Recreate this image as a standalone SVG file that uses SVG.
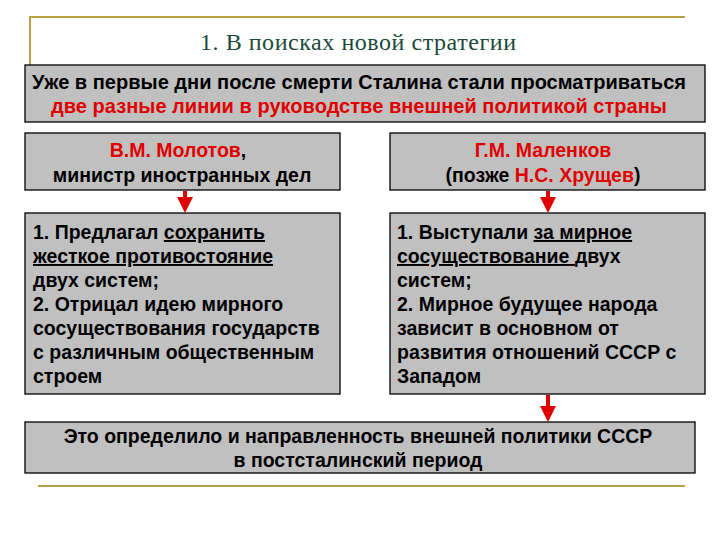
<svg xmlns="http://www.w3.org/2000/svg" width="720" height="540" viewBox="0 0 720 540" xml:space="preserve">
<style>
.b{fill:#c0c0c0;stroke:#000;stroke-width:1.3}
.t{font-family:"Liberation Sans",Arial,sans-serif;font-weight:bold;font-size:19.5px;fill:#000}
.r{fill:#e00000}
.g{stroke:#b8a040;stroke-width:2;fill:none}
</style>
<defs><marker id="ah" markerWidth="4" markerHeight="4" refX="2" refY="2" orient="auto" markerUnits="strokeWidth"><path d="M0,0L4,2L0,4z" fill="#e00000"/></marker></defs>
<rect width="720" height="540" fill="#fff"/>
<path class="g" d="M30,90V17H685"/>
<path class="g" d="M38,486H685"/>
<text x="358" y="50" text-anchor="middle" font-family="Liberation Serif,serif" font-size="24" fill="#1a4a3a" textLength="316">1. В поисках новой стратегии</text>
<g id="intro"><rect class="b" x="25" y="65" width="680" height="57"/>
<text class="t" x="359" y="89" text-anchor="middle" textLength="654" lengthAdjust="spacingAndGlyphs">Уже в первые дни после смерти Сталина стали просматриваться</text>
<text class="t r" x="359" y="113" text-anchor="middle" textLength="616" lengthAdjust="spacingAndGlyphs">две разные линии в руководстве внешней политикой страны</text></g>
<g id="molotov"><rect class="b" x="25" y="133" width="315" height="57"/>
<text class="t" x="178" y="157" text-anchor="middle"><tspan class="r">В.М. Молотов</tspan>,</text>
<text class="t" x="182" y="182" text-anchor="middle">министр иностранных дел</text></g>
<g id="malenkov"><rect class="b" x="390" y="133" width="315" height="57"/>
<text class="t r" x="543" y="157" text-anchor="middle">Г.М. Маленков</text>
<text class="t" x="543" y="182" text-anchor="middle">(позже <tspan class="r">Н.С. Хрущев</tspan>)</text></g>
<g id="left"><rect class="b" x="25" y="213" width="315" height="181"/>
<text class="t" x="33" y="239">1.  Предлагал <tspan text-decoration="underline">сохранить</tspan></text>
<text class="t" x="33" y="263" text-decoration="underline">жесткое противостояние</text>
<text class="t" x="33" y="287">двух систем;</text>
<text class="t" x="33" y="311">2. Отрицал идею мирного</text>
<text class="t" x="33" y="335">сосуществования государств</text>
<text class="t" x="33" y="359">с различным общественным</text>
<text class="t" x="33" y="383">строем</text></g>
<g id="right"><rect class="b" x="390" y="213" width="315" height="181"/>
<text class="t" x="397" y="239">1.  Выступали <tspan text-decoration="underline">за мирное</tspan></text>
<text class="t" x="397" y="263"><tspan text-decoration="underline">сосуществование </tspan>двух</text>
<text class="t" x="397" y="287">систем;</text>
<text class="t" x="397" y="311">2. Мирное будущее народа</text>
<text class="t" x="397" y="335">зависит в основном от</text>
<text class="t" x="397" y="359"> развития отношений СССР с</text>
<text class="t" x="397" y="383">Западом</text></g>
<g id="result"><rect class="b" x="25" y="422" width="670" height="51"/>
<text class="t" x="358" y="443" text-anchor="middle">Это определило и направленность внешней политики СССР</text>
<text class="t" x="358" y="467" text-anchor="middle">в постсталинский период</text></g>
<g id="connectors" stroke="#e00000" stroke-width="4" marker-end="url(#ah)">
<line x1="185" y1="191" x2="185" y2="205"/>
<line x1="548" y1="191" x2="548" y2="205"/>
<line x1="548" y1="395" x2="548" y2="414"/>
</g>
</svg>
